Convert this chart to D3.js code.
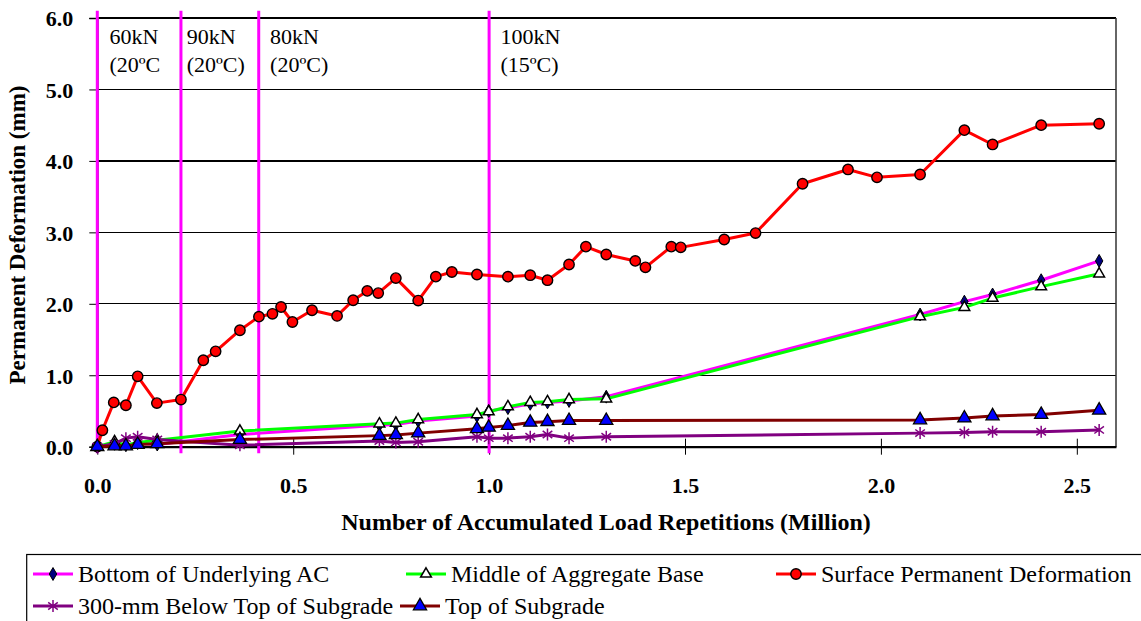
<!DOCTYPE html>
<html>
<head>
<meta charset="utf-8">
<script src="https://cdn.jsdelivr.net/npm/d3@7"></script>
<style>
  html, body { margin: 0; padding: 0; background: #fff; }
  svg { display: block; }
</style>
</head>
<body>
<svg id="chart" width="1141" height="621"></svg>
<script>
// ---------- data ----------
const xTicks = [0.0, 0.5, 1.0, 1.5, 2.0, 2.5];
const yTicks = [0.0, 1.0, 2.0, 3.0, 4.0, 5.0, 6.0];

// Surface permanent deformation
const surfaceX = [0, 0.013, 0.042, 0.073, 0.103, 0.152, 0.2135, 0.2705, 0.302, 0.364, 0.4125, 0.447, 0.469, 0.498, 0.548, 0.612, 0.653, 0.689, 0.717, 0.762, 0.819, 0.864, 0.905, 0.969, 1.048, 1.105, 1.149, 1.204, 1.247, 1.299, 1.373, 1.399, 1.465, 1.489, 1.60, 1.68, 1.80, 1.916, 1.99, 2.10, 2.213, 2.285, 2.409, 2.557];
const surfaceY = [0.0, 0.23, 0.62, 0.58, 0.985, 0.61, 0.66, 1.21, 1.335, 1.63, 1.82, 1.86, 1.955, 1.745, 1.91, 1.83, 2.05, 2.18, 2.15, 2.36, 2.045, 2.38, 2.445, 2.41, 2.38, 2.40, 2.33, 2.55, 2.80, 2.69, 2.60, 2.51, 2.80, 2.79, 2.90, 2.99, 3.68, 3.88, 3.77, 3.81, 4.43, 4.23, 4.50, 4.52];

// Depth measurements
const depthX = [0, 0.044, 0.073, 0.103, 0.153, 0.364, 0.72, 0.762, 0.819, 0.969, 0.999, 1.048, 1.105, 1.149, 1.204, 1.299, 2.10, 2.213, 2.285, 2.409, 2.557];
const bottomAC    = [0.0, 0.04, 0.02, 0.05, 0.03, 0.17, 0.30, 0.31, 0.36, 0.43, 0.50, 0.54, 0.60, 0.62, 0.64, 0.70, 1.85, 2.03, 2.13, 2.33, 2.60];
const middleBase  = [0.0, 0.07, 0.02, 0.06, 0.09, 0.22, 0.32, 0.33, 0.38, 0.45, 0.49, 0.56, 0.62, 0.63, 0.66, 0.67, 1.82, 1.95, 2.08, 2.24, 2.42];
const below300    = [0.0, 0.04, 0.12, 0.14, 0.10, 0.02, 0.08, 0.06, 0.07, 0.14, 0.12, 0.12, 0.14, 0.17, 0.12, 0.14, 0.19, 0.20, 0.21, 0.21, 0.235];
const topSubgrade = [0.0, 0.01, 0.01, 0.03, 0.04, 0.10, 0.155, 0.165, 0.19, 0.25, 0.27, 0.295, 0.34, 0.35, 0.365, 0.365, 0.374, 0.40, 0.43, 0.45, 0.51];

// Load stage boundaries and labels
const stageX = [0.0, 0.2135, 0.412, 1.0];
const stageLabelX = [0.031, 0.228, 0.441, 1.029];
const stageLoads = ["60kN", "90kN", "80kN", "100kN"];
const stageTemps = ["(20ºC", "(20ºC)", "(20ºC)", "(15ºC)"];

const seriesNames = ["Bottom of Underlying AC", "Middle of Aggregate Base", "Surface Permanent Deformation", "300-mm Below Top of Subgrade", "Top of Subgrade"];

const FONT = '"Liberation Serif", "Times New Roman", serif';

// ---------- layout ----------
const svg = d3.select("#chart");
const x = d3.scaleLinear().domain([0, 2.6]).range([97.3, 1116]);
const y = d3.scaleLinear().domain([0, 6]).range([446.7, 18]);

const series = [
  { name: seriesNames[0], xs: depthX, ys: bottomAC, line: "#FF00FF", marker: "diamond" },
  { name: seriesNames[1], xs: depthX, ys: middleBase, line: "#00FF00", marker: "openTri" },
  { name: seriesNames[2], xs: surfaceX, ys: surfaceY, line: "#FF0000", marker: "circle" },
  { name: seriesNames[3], xs: depthX, ys: below300, line: "#800080", marker: "star" },
  { name: seriesNames[4], xs: depthX, ys: topSubgrade, line: "#800000", marker: "blueTri" }
];

// gridlines
svg.append("g").selectAll("line").data(yTicks.filter(d => d > 0)).join("line")
  .attr("x1", x(0)).attr("x2", x(2.6))
  .attr("y1", d => y(d)).attr("y2", d => y(d))
  .attr("stroke", "#000").attr("stroke-width", 1.2).attr("shape-rendering", "crispEdges");

// right border
svg.append("line").attr("x1", x(2.6)).attr("x2", x(2.6)).attr("y1", y(6)).attr("y2", y(0))
  .attr("stroke", "#333").attr("stroke-width", 1.5);

// y axis
const yAxis = d3.axisLeft(y).tickValues(yTicks).tickSize(8).tickFormat(d3.format(".1f"));
const gy = svg.append("g").attr("transform", `translate(${x(0)},0)`).call(yAxis);
gy.select(".domain").attr("stroke", "#000").attr("stroke-width", 1.5);
gy.selectAll(".tick line").attr("stroke", "#000");
gy.selectAll(".tick text").attr("x", -24).attr("dy", "0.36em")
  .style("font-family", FONT)
  .style("font-size", "22px").style("font-weight", "bold").attr("fill", "#000");

// x axis
const xAxis = d3.axisBottom(x).tickValues(xTicks).tickSize(8).tickSizeOuter(0).tickFormat(d3.format(".1f"));
const gx = svg.append("g").attr("transform", `translate(0,${y(0)})`).call(xAxis);
gx.select(".domain").attr("stroke", "#000").attr("stroke-width", 2.2);
gx.selectAll(".tick line").attr("y1", -8).attr("stroke", "#000");
gx.selectAll(".tick text").attr("y", 38).attr("dy", "0.36em")
  .style("font-family", FONT)
  .style("font-size", "22px").style("font-weight", "bold").attr("fill", "#000");

// stage lines
svg.append("g").selectAll("line").data(stageX).join("line")
  .attr("x1", d => x(d)).attr("x2", d => x(d))
  .attr("y1", y(6.1)).attr("y2", y(-0.09))
  .attr("stroke", "#FF00FF").attr("stroke-width", 3);

// stage labels
const gl = svg.append("g").style("font-family", FONT).style("font-size", "22px");
gl.selectAll("text.load").data(stageLoads).join("text").attr("class", "load")
  .attr("x", (d, i) => x(stageLabelX[i])).attr("y", 43.5).text(d => d);
gl.selectAll("text.temp").data(stageTemps).join("text").attr("class", "temp")
  .attr("x", (d, i) => x(stageLabelX[i])).attr("y", 72).text(d => d);

// markers
function drawMarker(g, type, cx, cy) {
  if (type === "circle") {
    g.append("circle").attr("cx", cx).attr("cy", cy).attr("r", 5.2)
      .attr("fill", "#FF0000").attr("stroke", "#000").attr("stroke-width", 1.4);
  } else if (type === "diamond") {
    g.append("path").attr("transform", `translate(${cx},${cy})`)
      .attr("d", d3.symbol(d3.symbolDiamond, 48)())
      .attr("fill", "#000080").attr("stroke", "#000").attr("stroke-width", 1);
  } else if (type === "openTri") {
    g.append("path").attr("transform", `translate(${cx},${cy})`)
      .attr("d", d3.symbol(d3.symbolTriangle, 50)())
      .attr("fill", "#fff").attr("stroke", "#000").attr("stroke-width", 1.5);
  } else if (type === "blueTri") {
    g.append("path").attr("transform", `translate(${cx},${cy})`)
      .attr("d", d3.symbol(d3.symbolTriangle, 75)())
      .attr("fill", "#0000FF").attr("stroke", "#000").attr("stroke-width", 1.3);
  } else if (type === "star") {
    const r = 6;
    const p = d3.path();
    p.moveTo(cx, cy - r); p.lineTo(cx, cy + r);
    p.moveTo(cx - r * 0.8, cy - r * 0.6); p.lineTo(cx + r * 0.8, cy + r * 0.6);
    p.moveTo(cx - r * 0.8, cy + r * 0.6); p.lineTo(cx + r * 0.8, cy - r * 0.6);
    g.append("path").attr("d", p.toString()).attr("stroke", "#800080").attr("stroke-width", 1.5).attr("fill", "none");
  }
}

const line = d3.line().x(d => x(d[0])).y(d => y(d[1]));
series.forEach(s => {
  const pts = s.xs.map((v, i) => [v, s.ys[i]]);
  const g = svg.append("g");
  g.append("path").datum(pts).attr("d", line)
    .attr("fill", "none").attr("stroke", s.line).attr("stroke-width", 3).attr("stroke-linejoin", "round");
  pts.forEach(p => drawMarker(g, s.marker, x(p[0]), y(p[1])));
});

// axis titles
svg.append("text").attr("x", 606).attr("y", 530).attr("text-anchor", "middle")
  .style("font-family", FONT).style("font-size", "24px").style("font-weight", "bold")
  .text("Number of Accumulated Load Repetitions (Million)");
svg.append("text").attr("transform", "translate(25,235) rotate(-90)").attr("text-anchor", "middle")
  .style("font-family", FONT).style("font-size", "23px").style("font-weight", "bold")
  .text("Permanent Deformation (mm)");

// legend
svg.append("rect").attr("x", 26.7).attr("y", 554.5).attr("width", 1130).attr("height", 80)
  .attr("fill", "#fff").attr("stroke", "#000").attr("stroke-width", 1.2);
const legendPos = [
  { lx: 33, ly: 574 }, { lx: 406, ly: 574 }, { lx: 776, ly: 574 },
  { lx: 33, ly: 606 }, { lx: 400, ly: 606 }
];
series.forEach((s, i) => {
  const p = legendPos[i];
  const g = svg.append("g");
  g.append("line").attr("x1", p.lx).attr("x2", p.lx + 40).attr("y1", p.ly).attr("y2", p.ly)
    .attr("stroke", s.line).attr("stroke-width", 3);
  drawMarker(g, s.marker, p.lx + 20, p.ly);
  g.append("text").attr("x", p.lx + 45).attr("y", p.ly + 8)
    .style("font-family", FONT).style("font-size", "24px").text(s.name);
});
</script>
</body>
</html>
